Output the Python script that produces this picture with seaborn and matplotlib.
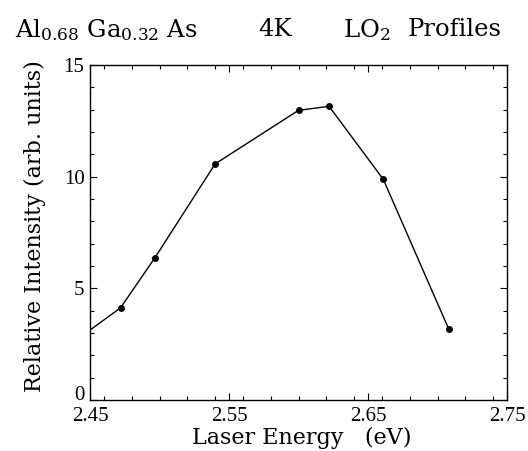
import matplotlib
matplotlib.use("Agg")
import matplotlib.pyplot as plt
import seaborn as sns
import pandas as pd
from matplotlib.ticker import MultipleLocator, FixedLocator

sns.set_theme(style="ticks")
plt.rcParams["font.family"] = ["DejaVu Serif"]
plt.rcParams["mathtext.fontset"] = "dejavuserif"

# Laser energy (eV) and relative LO2 intensity
energy = [2.45, 2.472, 2.4965, 2.540, 2.600, 2.622, 2.661, 2.708]
intensity = [3.13, 4.13, 6.35, 10.57, 12.97, 13.15, 9.88, 3.19]
x_ticks = [2.45, 2.55, 2.65, 2.75]
x_tick_labels = ["2.45", "2.55", "2.65", "2.75"]
y_ticks = [0, 5, 10, 15]
y_tick_labels = ["0", "5", "10", "15"]
title_parts = [r"Al$_{0.68}$ Ga$_{0.32}$ As", "4K", r"LO$_{2}$", "Profiles"]

df = pd.DataFrame({"energy": energy, "intensity": intensity})

W, H = 528, 451
fig = plt.figure(figsize=(W / 100, H / 100), dpi=100)
ax = fig.add_axes([90 / W, 1 - 400 / H, 417 / W, 335 / H])

sns.lineplot(data=df, x="energy", y="intensity", ax=ax, color="black",
             linewidth=1.0, marker="o", markersize=5, markeredgewidth=0,
             markevery=list(range(1, len(energy))))

ax.set_xlim(2.45, 2.75)
ax.set_ylim(0, 15)
ax.xaxis.set_major_locator(FixedLocator(x_ticks))
ax.set_xticklabels(x_tick_labels, family="Liberation Serif")
ax.xaxis.set_minor_locator(MultipleLocator(0.02))
ax.yaxis.set_major_locator(FixedLocator(y_ticks))
ax.set_yticklabels(y_tick_labels, family="Liberation Serif")
ax.yaxis.set_minor_locator(MultipleLocator(1))
ax.tick_params(which="both", direction="in", top=True, right=True,
               labelsize=15, color="black", labelcolor="black", width=0.8)
ax.tick_params(which="major", length=5)
ax.tick_params(which="minor", length=3)
ax.tick_params(axis="x", pad=5)
ax.tick_params(axis="y", pad=4)
ax.get_yticklabels()[0].set_va("baseline")
for s in ax.spines.values():
    s.set_color("black")
    s.set_linewidth(1.0)

ax.set_xlabel("Laser Energy   (eV)", fontsize=16, color="black")
ax.set_ylabel("Relative Intensity (arb. units)", fontsize=16, color="black")
ax.xaxis.set_label_coords(302 / W, 1 - 438 / H, transform=fig.transFigure)
ax.xaxis.label.set_va("center")
ax.yaxis.set_label_coords(35 / W, 1 - 226 / H, transform=fig.transFigure)
ax.yaxis.label.set_va("center")

# Title drawn as separate pieces with wide gaps between them
for part, xpix in zip(title_parts, [15, 258, 343, 408]):
    fig.text(xpix / W, 1 - 30 / H, part, ha="left", va="center",
             fontsize=17.5, color="black")

fig.savefig("out.png", dpi=100)
